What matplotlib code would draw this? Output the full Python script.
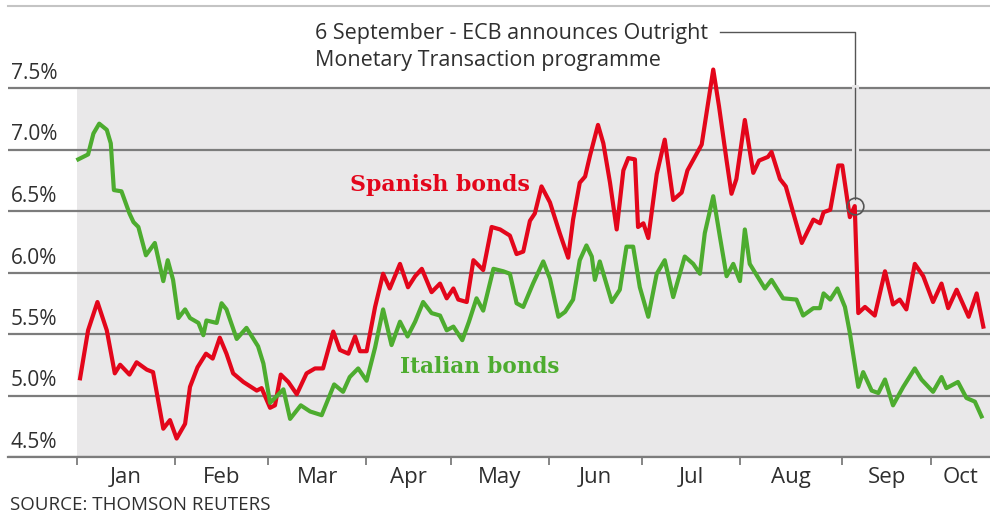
import matplotlib
matplotlib.use("Agg")
import matplotlib.pyplot as plt
import matplotlib.patheffects as pe

# x is counted in trading days from 2 Jan 2012
month_labels = ["Jan", "Feb", "Mar", "Apr", "May", "Jun", "Jul", "Aug", "Sep", "Oct"]
month_starts = [0, 22, 43, 65, 84, 106, 127, 149, 172, 192]
x_end = 205.2
y_ticks = [4.5, 5.0, 5.5, 6.0, 6.5, 7.0, 7.5]
y_labels = ["4.5%", "5.0%", "5.5%", "6.0%", "6.5%", "7.0%", "7.5%"]

spain_x = [0.7, 2.5, 4.6, 6.7, 8.5, 9.7, 11.8, 13.4, 15.7, 17.1, 19.4, 20.9, 22.4, 24.3,
           25.4, 27.1, 29.0, 30.5, 32.1, 33.6, 35.1, 37.4, 40.4, 41.5, 43.4, 44.5, 45.8,
           47.5, 49.4, 51.6, 53.5, 55.3, 57.6, 59.1, 61.0, 62.5, 63.6, 65.1, 67.0, 68.8,
           70.3, 72.6, 74.4, 76.0, 77.5, 79.7, 81.6, 83.1, 84.6, 85.7, 87.6, 89.1, 90.2,
           91.3, 93.2, 95.1, 97.3, 98.8, 100.3, 101.8, 102.9, 104.4, 106.3, 108.5, 110.4,
           111.5, 113.0, 114.2, 115.3, 117.1, 118.3, 119.8, 121.3, 122.8, 123.9, 125.4,
           126.1, 127.3, 128.4, 130.3, 132.1, 134.0, 135.9, 137.2, 140.4, 143.0, 144.3,
           146.0, 147.1, 148.2, 150.1, 152.0, 153.3, 155.3, 156.1, 158.0, 159.3, 162.9,
           165.5, 167.0, 167.8, 169.3, 171.1, 172.0, 173.7, 174.8, 175.6, 177.1, 179.3,
           181.6, 183.4, 184.9, 186.4, 188.3, 190.2, 192.4, 194.3, 195.8, 197.7, 200.4,
           202.2, 203.7]
spain_y = [5.14, 5.53, 5.76, 5.53, 5.18, 5.25, 5.17, 5.27, 5.21, 5.19, 4.73, 4.80, 4.65, 4.77,
           5.07, 5.23, 5.34, 5.30, 5.47, 5.34, 5.18, 5.11, 5.04, 5.06, 4.90, 4.92, 5.17,
           5.11, 5.01, 5.18, 5.22, 5.22, 5.52, 5.37, 5.34, 5.48, 5.36, 5.36, 5.72, 5.99,
           5.87, 6.07, 5.88, 5.97, 6.03, 5.84, 5.91, 5.79, 5.87, 5.78, 5.76, 6.10, 6.06,
           6.02, 6.37, 6.35, 6.30, 6.15, 6.17, 6.42, 6.48, 6.70, 6.57, 6.32, 6.12,
           6.43, 6.73, 6.78, 6.95, 7.20, 7.05, 6.73, 6.35, 6.83, 6.93, 6.92,
           6.37, 6.40, 6.28, 6.80, 7.08, 6.59, 6.65, 6.83, 7.04, 7.65, 7.35,
           6.91, 6.64, 6.76, 7.24, 6.81, 6.91, 6.94, 6.98, 6.76, 6.70, 6.24,
           6.43, 6.40, 6.49, 6.51, 6.87, 6.87, 6.45, 6.54, 5.67, 5.72, 5.65,
           6.01, 5.74, 5.78, 5.70, 6.07, 5.97, 5.76, 5.91, 5.71, 5.86, 5.64,
           5.83, 5.56]

italy_x = [0.3, 2.5, 3.7, 5.0, 6.7, 7.6, 8.3, 10.0, 11.8, 12.7, 13.8, 15.5, 17.5, 19.4, 20.4,
           21.6, 22.8, 24.3, 25.4, 27.3, 28.4, 29.1, 31.4, 32.5, 33.6, 35.9, 38.1, 40.7,
           41.9, 43.4, 46.4, 47.9, 50.3, 52.4, 55.0, 57.8, 59.8, 61.3, 63.2, 65.1, 67.0,
           68.8, 70.7, 72.6, 74.3, 76.0, 77.8, 79.7, 81.6, 83.1, 84.6, 86.6, 88.1, 89.8,
           91.3, 93.6, 95.8, 97.3, 98.8, 100.3, 102.5, 104.8, 106.3, 108.2, 109.7, 111.5,
           113.0, 114.5, 115.7, 116.4, 117.5, 120.2, 122.0, 123.5, 125.0, 126.5, 128.4,
           130.3, 132.1, 134.0, 136.6, 138.5, 140.0, 141.1, 143.0, 144.5, 146.0, 147.5,
           149.0, 150.1, 151.2, 154.6, 156.1, 158.7, 161.7, 163.2, 165.5, 167.0, 167.8,
           169.3, 170.9, 172.6, 173.7, 175.6, 176.7, 178.6, 180.1, 181.6, 183.4, 185.7,
           188.3, 189.8, 192.4, 194.3, 195.4, 198.0, 199.9, 201.8, 203.3]
italy_y = [6.92, 6.96, 7.13, 7.21, 7.16, 7.05, 6.67, 6.66, 6.48, 6.41, 6.37, 6.14, 6.24, 5.93, 6.10,
           5.94, 5.63, 5.70, 5.63, 5.59, 5.49, 5.61, 5.59, 5.75, 5.70, 5.46, 5.55, 5.40,
           5.26, 4.94, 5.05, 4.81, 4.92, 4.87, 4.84, 5.09, 5.03, 5.15, 5.22, 5.12, 5.39,
           5.70, 5.41, 5.60, 5.48, 5.60, 5.76, 5.67, 5.65, 5.53, 5.56, 5.45, 5.60, 5.79,
           5.69, 6.03, 6.01, 5.99, 5.75, 5.72, 5.91, 6.09, 5.95, 5.64, 5.68, 5.78,
           6.10, 6.22, 6.13, 5.94, 6.09, 5.76, 5.86, 6.21, 6.21, 5.88, 5.64,
           5.99, 6.10, 5.80, 6.13, 6.07, 5.99, 6.32, 6.62, 6.29, 5.97, 6.07,
           5.93, 6.35, 6.07, 5.87, 5.94, 5.79, 5.78, 5.65, 5.71, 5.71, 5.83,
           5.78, 5.87, 5.72, 5.51, 5.07, 5.19, 5.04, 5.02, 5.13, 4.92, 5.07,
           5.22, 5.13, 5.03, 5.15, 5.06, 5.11, 4.98, 4.95, 4.83]

ecb_day = 174.8
ecb_text = "6 September - ECB announces Outright\nMonetary Transaction programme"

RED = "#e3061b"
GREEN = "#4dac2f"
GRID = "#7c7c7c"
PANEL = "#e9e8e9"
TXT = "#2f2f2f"
FONT = ["Open Sans", "DejaVu Sans"]

plt.rcParams["font.family"] = FONT

fig = plt.figure(figsize=(9.9, 5.18), dpi=100)
ax = fig.add_axes([8 / 990, 61 / 518, 982 / 990, 451 / 518])
ax.set_xlim(-15.5, x_end)
ax.set_ylim(4.5, 4.5 + 451 / 123)

# grey panel behind the lines
ax.fill_between([month_starts[0], x_end], min(y_ticks), max(y_ticks),
                color=PANEL, lw=0, zorder=0)
for v in y_ticks:
    ax.axhline(v, color=GRID, lw=1.6, zorder=1)

ax.plot(spain_x, spain_y, color=RED, lw=3.0, solid_joinstyle="round", zorder=3)
ax.plot(italy_x, italy_y, color=GREEN, lw=3.0, solid_joinstyle="round", zorder=3)

# y labels sit just above their gridlines
ax.set_yticks(y_ticks)
ax.set_yticklabels(y_labels)
ax.tick_params(axis="y", length=0, pad=-2, labelsize=15, labelcolor=TXT)
for t in ax.yaxis.get_major_ticks():
    t.label1.set_horizontalalignment("left")
    t.label1.set_verticalalignment("bottom")
    t.label1.set_transform(t.label1.get_transform() +
                           matplotlib.transforms.ScaledTranslation(0, 4 / 100, fig.dpi_scale_trans))

# month boundaries as ticks, names centred in between
bounds = month_starts + [x_end]
mids = [(bounds[i] + bounds[i + 1]) / 2 for i in range(len(month_labels))]
ax.set_xticks(month_starts, minor=True)
ax.set_xticks(mids)
ax.set_xticklabels(month_labels)
ax.tick_params(axis="x", which="major", length=0, pad=7, labelsize=16, labelcolor=TXT)
ax.tick_params(axis="x", which="minor", length=6, width=1.3, color=GRID)

for s in ["left", "right"]:
    ax.spines[s].set_visible(False)
ax.spines["bottom"].set_color(GRID)
ax.spines["bottom"].set_linewidth(1.6)
ax.spines["top"].set_color("#c4c4c4")
ax.spines["top"].set_linewidth(1.5)

# ECB annotation
i_ecb = min(range(len(spain_x)), key=lambda i: abs(spain_x[i] - ecb_day))
ex, ey = spain_x[i_ecb], spain_y[i_ecb]
top_v = 4.5 + (457 - 32) / 123
ax.plot([144.5, ex, ex], [top_v, top_v, max(y_ticks)], color="#555555", lw=1.0, zorder=4)
ax.plot([ex, ex], [max(y_ticks), ey + 0.06], color="#555555", lw=1.0, zorder=4,
        path_effects=[pe.Stroke(linewidth=5, foreground=PANEL), pe.Normal()])
ax.plot([ex], [ey], "o", ms=12, mfc="none", mec="#555555", mew=1.2, zorder=5)
ax.text(53.5, 4.5 + (457 - 47) / 123, ecb_text, fontsize=15.5, color=TXT,
        va="center", ha="left", linespacing=1.38, zorder=5)

ax.text(61.4, 6.71, "Spanish bonds", color=RED, fontsize=15.8, fontweight="bold",
        family=["DejaVu Serif"], va="center", ha="left", zorder=5)
ax.text(72.6, 5.23, "Italian bonds", color=GREEN, fontsize=15.5, fontweight="bold",
        family=["DejaVu Serif"], va="center", ha="left", zorder=5)

fig.text(10 / 990, 1 - 505 / 518, "SOURCE: THOMSON REUTERS", fontsize=13.5,
         color=TXT, va="center", ha="left")

fig.savefig("out.png", dpi=100)
